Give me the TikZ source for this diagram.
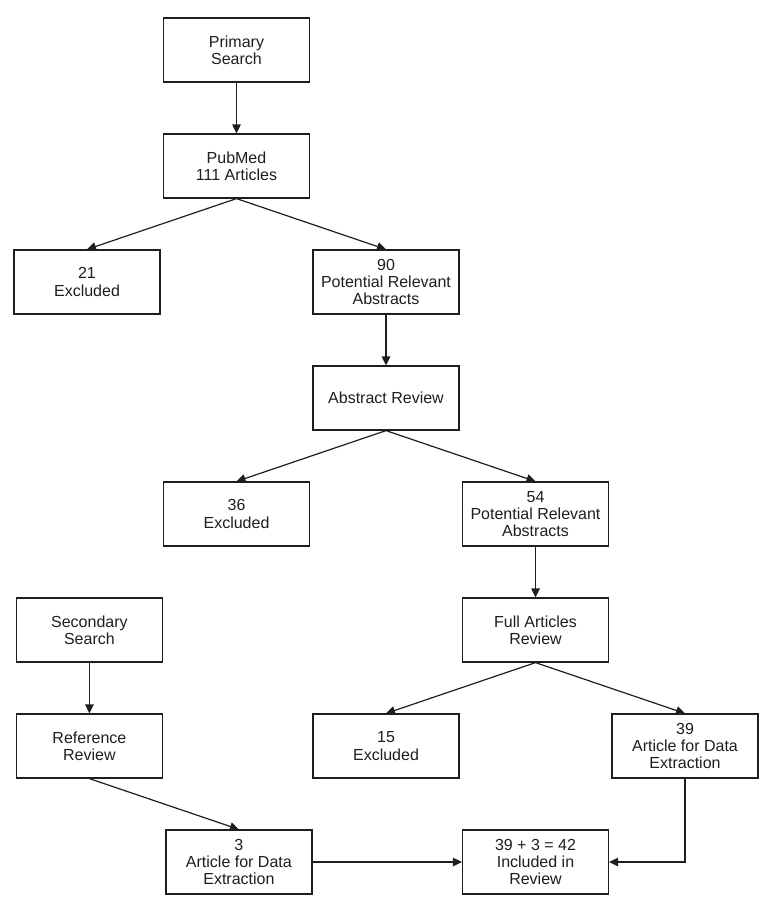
\documentclass[tikz,border=0pt]{standalone}
\usepackage{fontspec}
\setmainfont{Liberation Sans}
\usetikzlibrary{arrows.meta,positioning}
\definecolor{FlowGray}{RGB}{30,30,30}

\begin{document}
\begin{tikzpicture}[node distance=50.8pt and 2.3pt,
  box/.style={draw=FlowGray,line width=1.2pt,minimum width=146pt,minimum height=64pt,
      inner sep=1pt,align=center,text=FlowGray,font=\fontsize{16}{17.4}\selectfont},
  arr/.style={-{Triangle[length=9pt,width=8.5pt]},line width=1.2pt,FlowGray}]
\useasboundingbox (0,0) rectangle (773pt,-902pt);
% primary search branch
\node[box] (prim) at (236.5pt,-50pt) {Primary\\Search};
\node[box,below=of prim] (pubmed) {PubMed\\111 Articles};
\node[box,below left=of pubmed] (exclA) {21\\Excluded};
\node[box,below right=of pubmed] (potA) {90\\Potential Relevant\\Abstracts};
\draw[arr] (prim) -- (pubmed);
\draw[arr] (pubmed.south) -- (exclA.north);
\draw[arr] (pubmed.south) -- (potA.north);
\node[box,below=of potA] (absrev) {Abstract Review};
\node[box,below left=of absrev] (exclB) {36\\Excluded};
\node[box,below right=of absrev] (potB) {54\\Potential Relevant\\Abstracts};
\draw[arr] (potA) -- (absrev);
\draw[arr] (absrev.south) -- (exclB.north);
\draw[arr] (absrev.south) -- (potB.north);
\node[box,below=of potB] (fullrev) {Full Articles\\Review};
\node[box,below left=of fullrev] (exclC) {15\\Excluded};
\node[box,below right=of fullrev] (artD) {39\\Article for Data\\Extraction};
\draw[arr] (potB) -- (fullrev);
\draw[arr] (fullrev.south) -- (exclC.north);
\draw[arr] (fullrev.south) -- (artD.north);
\node[box,below left=of artD] (incl) {39 + 3 = 42\\Included in\\Review};
% secondary search branch
\node[box,left=298.9pt of fullrev] (secsearch) {Secondary\\Search};
\node[box,below=of secsearch] (refrev) {Reference\\Review};
\node[box,below right=of refrev] (artS) {3\\Article for Data\\Extraction};
\draw[arr] (secsearch) -- (refrev);
\draw[arr] (refrev.south) -- (artS.north);
\draw[arr] (artS) -- (incl);
\draw[arr] (artD.south) |- (incl.east);
\end{tikzpicture}
\end{document}
